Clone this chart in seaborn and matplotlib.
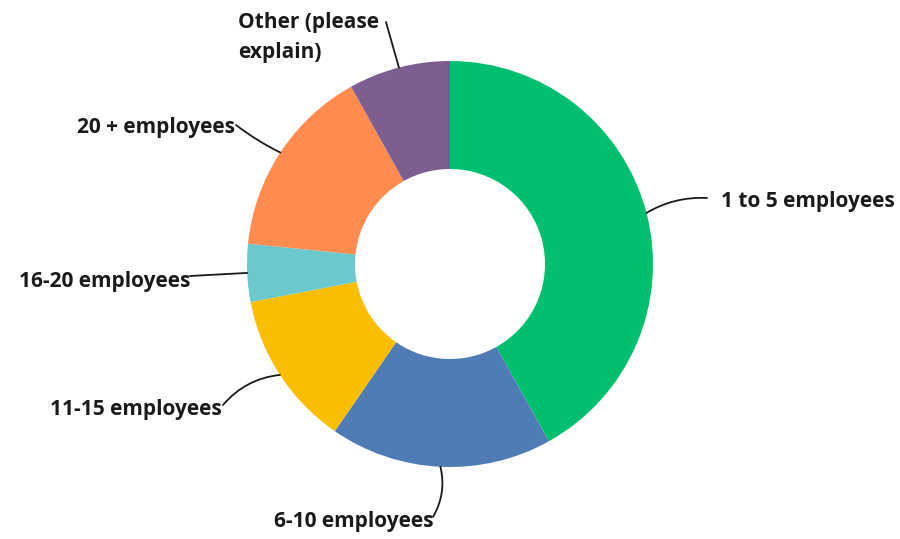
import numpy as np
import matplotlib
matplotlib.use("Agg")
import matplotlib.pyplot as plt
import seaborn as sns

categories = ["1 to 5 employees", "6-10 employees", "11-15 employees",
              "16-20 employees", "20 + employees", "Other (please\nexplain)"]
values = [41.9, 17.7, 12.4, 4.6, 15.3, 8.1]
colors = ["#00BF6F", "#507CB6", "#F9BE00", "#6BC8CD", "#FF8B4F", "#7D5E90"]

sns.set_theme(style="white")
plt.rcParams["font.family"] = ["Open Sans", "DejaVu Sans"]

fig = plt.figure(figsize=(9, 5.39), dpi=100)
ax = fig.add_axes([0, 0, 1, 1])

cx, cy, R = 450, 275, 203
wedges, _ = ax.pie(values, colors=sns.color_palette(colors), startangle=90,
                   counterclock=False, center=(cx, cy), radius=R,
                   wedgeprops=dict(width=108, linewidth=0), frame=True)
ax.set_xlim(0, 900)
ax.set_ylim(0, 539)
ax.set_aspect("equal")
ax.axis("off")

# label layout: line end, text offset from line end, ha, va, rad
layout = [
    ((707, 341), (14, -4), "left", "center", 0.15),
    ((433, 22), (0, -5), "right", "center", 0.2),
    ((223, 134), (-1, -4), "right", "center", -0.2),
    ((190, 263), (0, -5), "right", "center", 0.0),
    ((236, 414), (-1, -3), "right", "center", 0.05),
    ((386, 517), (-148, 10), "left", "top", 0.0),
]

for w, lab, (end, off, ha, va, rad) in zip(wedges, categories, layout):
    ang = np.deg2rad((w.theta1 + w.theta2) / 2)
    anchor = (cx + R * np.cos(ang), cy + R * np.sin(ang))
    ax.annotate("", xy=anchor, xytext=end,
                arrowprops=dict(arrowstyle="-", color="#1a1a1a", lw=1.3,
                                shrinkA=0, shrinkB=0,
                                connectionstyle=f"arc3,rad={rad}"))
    ax.text(end[0] + off[0], end[1] + off[1], lab, ha=ha, va=va,
            fontsize=15, fontweight="bold", color="#1a1a1a",
            linespacing=1.55)

fig.savefig("out.png", dpi=100)
